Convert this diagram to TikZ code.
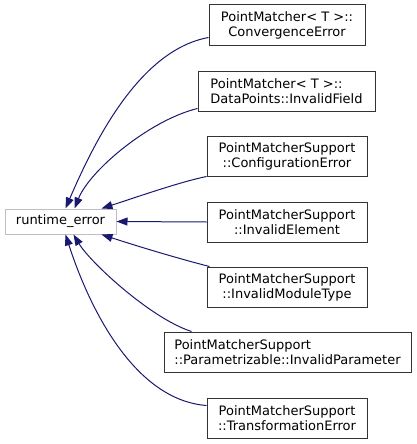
\documentclass[tikz,border=0pt]{standalone}
\usepackage{fontspec}
\setmainfont{DejaVu Sans}
\usetikzlibrary{arrows.meta,calc}
\definecolor{edgeblue}{HTML}{191970}
\tikzset{
  cls/.style={draw=black!80, line width=1pt, fill=white, align=center, inner sep=0pt,
    font=\fontsize{13}{15}\selectfont, text=black},
  base/.style={draw=black!25, line width=1pt, fill=white, align=center, inner sep=0pt,
    font=\fontsize{13}{15}\selectfont, text=black},
  edge/.style={draw=edgeblue, line width=1pt, {Triangle[length=11pt,width=8pt,fill=edgeblue]}-}
}
\begin{document}
\begin{tikzpicture}[x=1pt,y=-1pt]
\useasboundingbox (0,0) rectangle (416,444);
\node[base, minimum width=111pt, minimum height=25pt] (rt) at (60.5,221.5) {runtime\_error};
\node[cls, minimum width=156pt, minimum height=41pt] (c1) at (287,25.5) {PointMatcher< T >::\\ConvergenceError};
\node[cls, align=left, minimum width=177pt, minimum height=40pt] (c2) at (286.5,91) {PointMatcher< T >::\\DataPoints::InvalidField};
\node[cls, minimum width=160pt, minimum height=40pt] (c3) at (287,156) {PointMatcherSupport\\::ConfigurationError};
\node[cls, minimum width=160pt, minimum height=40pt] (c4) at (287,222) {PointMatcherSupport\\::InvalidElement};
\node[cls, minimum width=160pt, minimum height=40pt] (c5) at (287,287) {PointMatcherSupport\\::InvalidModuleType};
\node[cls, align=left, minimum width=247pt, minimum height=40pt] (c6) at (287.5,352) {PointMatcherSupport\\::Parametrizable::InvalidParameter};
\node[cls, minimum width=160pt, minimum height=40pt] (c7) at (287,418) {PointMatcherSupport\\::TransformationError};
\draw[edge] ($(rt.north west)+(61,0)$) .. controls (95,140) and (140,50) .. ($(c1.south west)+(0,-9)$);
\draw[edge] ($(rt.north west)+(70,0)$) .. controls (90,170) and (150,120) .. ($(c2.south west)+(0,-3)$);
\draw[edge] ($(rt.north west)+(97,0)$) .. controls (140,196) and (180,182) .. (c3.south west);
\draw[edge] (rt.east) -- (c4.west);
\draw[edge] ($(rt.south west)+(97,0)$) .. controls (140,247) and (180,259) .. ($(c5.north west)+(3,0)$);
\draw[edge] ($(rt.south west)+(69,0)$) .. controls (90,262) and (150,318) .. ($(c6.north west)+(28,0)$);
\draw[edge] ($(rt.south west)+(61,0)$) .. controls (90,310) and (135,400) .. ($(c7.north west)+(0,8)$);
\end{tikzpicture}
\end{document}
